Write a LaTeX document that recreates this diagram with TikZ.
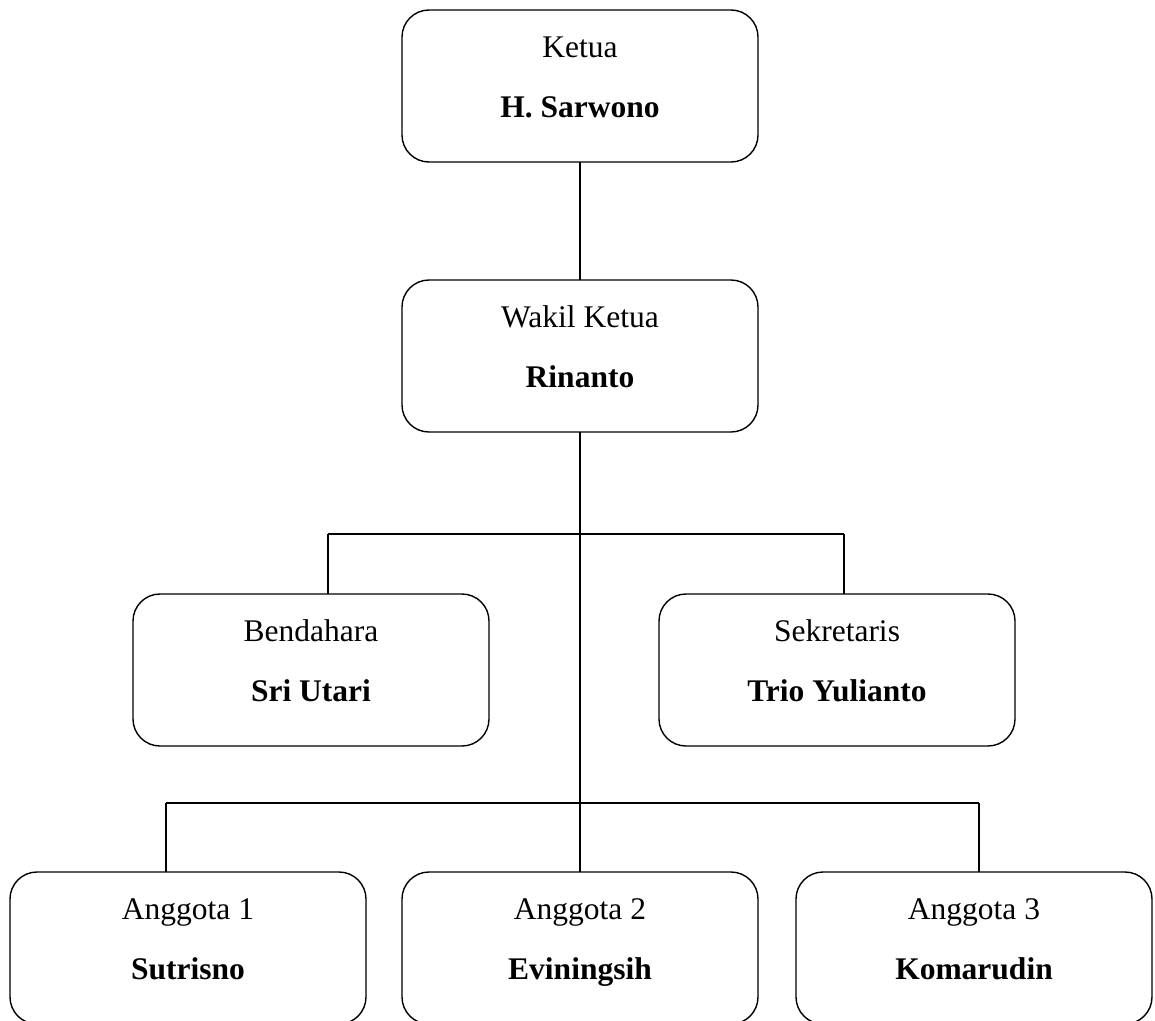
\documentclass[tikz,border=0pt]{standalone}
\usepackage{fontspec}
\setmainfont{Liberation Serif}
\begin{document}
\begin{tikzpicture}[x=1pt,y=-1pt,
  box/.style={draw=black,line width=1.4pt,rounded corners=27pt,minimum width=356pt,minimum height=152pt,anchor=north west,inner sep=0pt,outer sep=0pt},
  role/.style={anchor=base,font=\fontsize{31.5}{37}\selectfont,inner sep=0pt},
  who/.style={anchor=base,font=\fontsize{31.5}{37}\selectfont\bfseries,inner sep=0pt},
  conn/.style={line width=1.4pt}]
\useasboundingbox (0,0) rectangle (1155,1020);
\clip (0,0) rectangle (1155,1020);
\fill[white] (0,0) rectangle (1155,1020);
% boxes
\node[box] (k) at (402,10) {};
\node[box] (w) at (402,280) {};
\node[box] (b) at (133,594) {};
\node[box] (s) at (659,594) {};
\node[box] (a1) at (10,872) {};
\node[box] (a2) at (402,872) {};
\node[box] (a3) at (796,872) {};
% texts
\foreach \n/\r/\p in {k/Ketua/H. Sarwono, w/Wakil Ketua/Rinanto, b/Bendahara/Sri Utari, s/Sekretaris/Trio Yulianto, a1/Anggota 1/Sutrisno, a2/Anggota 2/Eviningsih, a3/Anggota 3/Komarudin}{
  \node[role] (\n r) at ([yshift=-47pt]\n.north) {\r};
  \node[who] (\n p) at ([yshift=-107pt]\n.north) {\p};
}
% junctions
\coordinate (bj) at (328,534);
\coordinate (sj) at (844,534);
\coordinate (a1j) at (166,803);
\coordinate (a3j) at (979,803);
\coordinate (j1) at (w.south |- bj);
\coordinate (j2) at (w.south |- a1j);
% connectors
\draw[conn] (k.south) -- (w.north);
\draw[conn] (w.south) -- (j1) -- (j2) -- (a2.north);
\draw[conn] (bj) -- (sj);
\draw[conn] (bj) -- (bj |- b.north);
\draw[conn] (sj) -- (sj |- s.north);
\draw[conn] (a1j) -- (a3j);
\draw[conn] (a1j) -- (a1j |- a1.north);
\draw[conn] (a3j) -- (a3j |- a3.north);
\end{tikzpicture}
\end{document}
